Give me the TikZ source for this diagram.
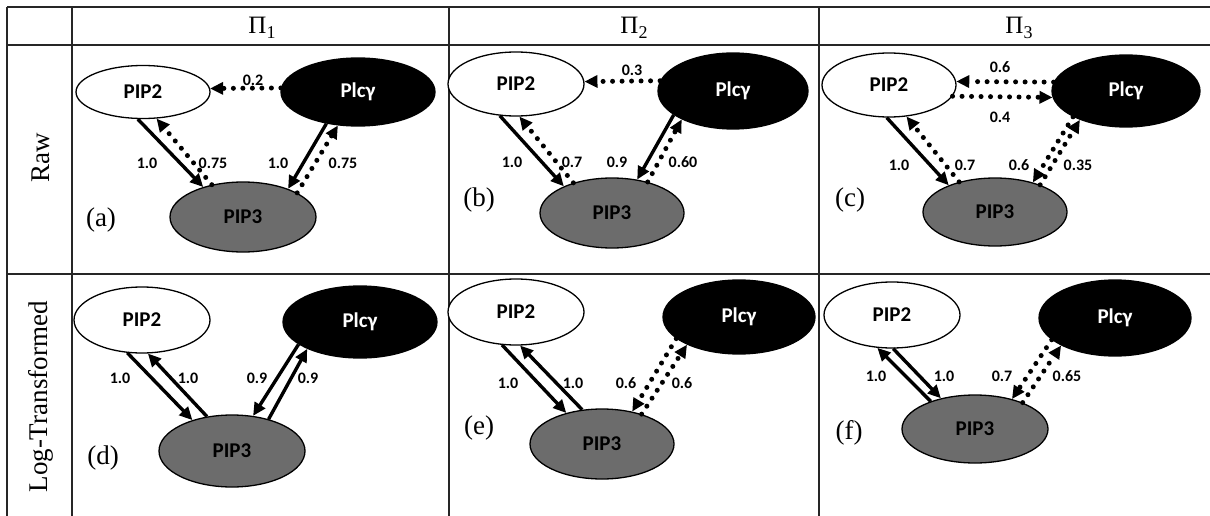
\documentclass[tikz,border=0pt]{standalone}
\usepackage{fontspec}
\setmainfont{Liberation Serif}
\newfontfamily\carl{Carlito}
\usetikzlibrary{shapes.geometric,arrows.meta}
\definecolor{pipgray}{RGB}{108,108,108}
\newcommand{\PiSub}[1]{\fontsize{25}{28}\selectfont Π\raisebox{-5pt}{\fontsize{18}{20}\selectfont #1}}
\begin{document}
\begin{tikzpicture}[x=1pt,y=-1pt,
  tbl/.style={line width=1.3pt, draw=black!85},
  gn/.style={ellipse, draw, line width=1.3pt, inner sep=0pt, font=\carl\bfseries\fontsize{21}{24}\selectfont},
  pwhite/.style={gn, fill=white},
  pblack/.style={gn, fill=black, text=white},
  pgrey/.style={gn, fill=pipgray},
  solarr/.style={line width=3.4pt, -{Triangle[length=13pt,width=12pt]}},
  dotarr/.style={line width=5pt, line cap=round, dash pattern=on 0pt off 9.5pt, -{Triangle[length=13pt,width=12pt]}},
  elab/.style={font=\carl\bfseries\fontsize{16}{18}\selectfont, inner sep=0pt},
  clab/.style={font=\fontsize{27}{30}\selectfont, inner sep=0pt},
  hdr/.style={inner sep=0pt},
  rlab/.style={font=\fontsize{27}{30}\selectfont, inner sep=0pt, rotate=90}
]
\useasboundingbox (0,0) rectangle (1210,516);
% table
\draw[tbl] (7,7) -- (1210,7);
\draw[tbl] (7,45) -- (1210,45);
\draw[tbl] (7,274) -- (1210,274);
\draw[tbl] (7,7) -- (7,516);
\draw[tbl] (72,7) -- (72,516);
\draw[tbl] (449,7) -- (449,516);
\draw[tbl] (819,7) -- (819,516);
\node[hdr] (h1) at (262,28) {\PiSub{1}};
\node[hdr] (h2) at (634,28) {\PiSub{2}};
\node[hdr] (h3) at (1019,28) {\PiSub{3}};
\node[rlab] (r1) at (41,158) {Raw};
\node[rlab] (r2) at (41,397) {Log-Transformed};

% ---------- (a)
\node[pwhite, minimum width=134pt, minimum height=53pt] (a2) at (143,92) {PIP2};
\node[pblack, minimum width=154pt, minimum height=68pt] (ap) at (358,92) {Plcγ};
\node[pgrey, minimum width=146pt, minimum height=70pt] (a3) at (243,217) {PIP3};
\node[clab] (la) at (101,220) {(a)};
\draw[dotarr] (ap.177) -- (a2.3);
\draw[solarr] (a2.-101) -- (a3.143);
\draw[dotarr] (a3.134) -- (a2.-63);
\draw[solarr] (ap.-135) -- (a3.32);
\draw[dotarr] (a3.24) -- (ap.-121);
\node[elab] at (253,80) {0.2};
\node[elab] at (147,163) {1.0};
\node[elab] at (213,163) {0.75};
\node[elab] at (278,163) {1.0};
\node[elab] at (343,163) {0.75};

% ---------- (b)
\node[pwhite, minimum width=136pt, minimum height=64pt] (b2) at (516,84) {PIP2};
\node[pblack, minimum width=150pt, minimum height=76pt] (bp) at (733,91) {Plcγ};
\node[pgrey, minimum width=144pt, minimum height=70pt] (b3) at (612,213) {PIP3};
\node[clab] (lb) at (479,200) {(b)};
\draw[dotarr] (bp.172) -- (b2.2);
\draw[solarr] (b2.-117) -- (b3.151);
\draw[dotarr] (b3.142) -- (b2.-84);
\draw[solarr] (bp.-158) -- (b3.53);
\draw[dotarr] (b3.41) -- (bp.-151);
\node[elab] at (632,70) {0.3};
\node[elab] at (512,162) {1.0};
\node[elab] at (572,162) {0.7};
\node[elab] at (617,162) {0.9};
\node[elab] at (683,162) {0.60};

% ---------- (c)
\node[pwhite, minimum width=134pt, minimum height=64pt] (c2) at (889,85) {PIP2};
\node[pblack, minimum width=148pt, minimum height=72pt] (cp) at (1126,91) {Plcγ};
\node[pgrey, minimum width=144pt, minimum height=68pt] (c3) at (995,212) {PIP3};
\node[clab] (lc) at (850,200) {(c)};
\draw[dotarr] (cp.173) -- (c2.3);
\draw[dotarr] (c2.-10) -- (cp.-175);
\draw[solarr] (c2.-94) -- (c3.150);
\draw[dotarr] (c3.140) -- (c2.-61);
\draw[dotarr] (cp.-154) -- (c3.38);
\draw[dotarr] (c3.31) -- (cp.-148);
\node[elab] at (1000,67) {0.6};
\node[elab] at (1000,117) {0.4};
\node[elab] at (899,165) {1.0};
\node[elab] at (965,165) {0.7};
\node[elab] at (1019,165) {0.6};
\node[elab] at (1078,165) {0.35};

% ---------- (d)
\node[pwhite, minimum width=136pt, minimum height=66pt] (d2) at (142,320) {PIP2};
\node[pblack, minimum width=154pt, minimum height=72pt] (dp) at (360,322) {Plcγ};
\node[pgrey, minimum width=146pt, minimum height=72pt] (d3) at (232,451) {PIP3};
\node[clab] (ld) at (103,458) {(d)};
\draw[solarr] (d2.-114) -- (d3.142);
\draw[solarr] (d3.126) -- (d2.-80);
\draw[solarr] (dp.-160) -- (d3.59);
\draw[solarr] (d3.41) -- (dp.-153);
\node[elab] at (120,378) {1.0};
\node[elab] at (188,378) {1.0};
\node[elab] at (257,378) {0.9};
\node[elab] at (308,378) {0.9};

% ---------- (e)
\node[pwhite, minimum width=136pt, minimum height=66pt] (e2) at (516,312) {PIP2};
\node[pblack, minimum width=152pt, minimum height=74pt] (ep) at (739,317) {Plcγ};
\node[pgrey, minimum width=144pt, minimum height=70pt] (e3) at (602,444) {PIP3};
\node[clab] (le) at (479,428) {(e)};
\draw[solarr] (e2.-113) -- (e3.139);
\draw[solarr] (e3.120) -- (e2.-83);
\draw[dotarr] (ep.-161) -- (e3.47);
\draw[dotarr] (e3.37) -- (ep.-152);
\node[elab] at (508,383) {1.0};
\node[elab] at (573,383) {1.0};
\node[elab] at (626,383) {0.6};
\node[elab] at (682,383) {0.6};

% ---------- (f)
\node[pwhite, minimum width=136pt, minimum height=66pt] (f2) at (892,315) {PIP2};
\node[pblack, minimum width=152pt, minimum height=76pt] (fp) at (1115,318) {Plcγ};
\node[pgrey, minimum width=146pt, minimum height=68pt] (f3) at (975,429) {PIP3};
\node[clab] (lf) at (849,433) {(f)};
\draw[solarr] (f3.148) -- (f2.-114);
\draw[solarr] (f2.-88) -- (f3.138);
\draw[dotarr] (fp.-161) -- (f3.39);
\draw[dotarr] (f3.29) -- (fp.-153);
\node[elab] at (876,376) {1.0};
\node[elab] at (944,376) {1.0};
\node[elab] at (1002,376) {0.7};
\node[elab] at (1067,376) {0.65};
\end{tikzpicture}
\end{document}
